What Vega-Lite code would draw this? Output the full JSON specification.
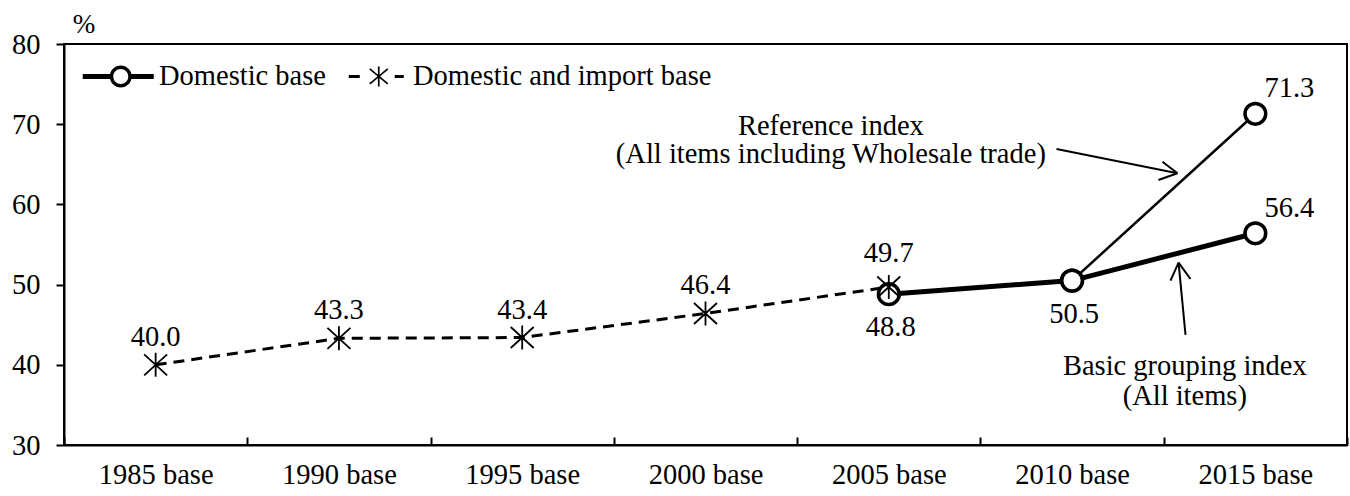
{
  "$schema": "https://vega.github.io/schema/vega-lite/v6.json",
  "width": 1283,
  "height": 401,
  "autosize": {"type": "none"},
  "padding": {"left": 64, "top": 44, "right": 3, "bottom": 51},
  "background": "white",
  "config": {
    "view": {"stroke": "black", "strokeWidth": 2},
    "font": "Liberation Serif",
    "text": {"font": "Liberation Serif", "fontSize": 28.5, "color": "black"},
    "axis": {"labelFont": "Liberation Serif", "titleFont": "Liberation Serif"},
    "legend": {"labelFont": "Liberation Serif", "titleFont": "Liberation Serif"}
  },
  "datasets": {
    "series": [
      {"base": "1985 base", "series": "Domestic and import base", "value": 40.0},
      {"base": "1990 base", "series": "Domestic and import base", "value": 43.3},
      {"base": "1995 base", "series": "Domestic and import base", "value": 43.4},
      {"base": "2000 base", "series": "Domestic and import base", "value": 46.4},
      {"base": "2005 base", "series": "Domestic and import base", "value": 49.7},
      {"base": "2005 base", "series": "Domestic base", "value": 48.8},
      {"base": "2010 base", "series": "Domestic base", "value": 50.5},
      {"base": "2015 base", "series": "Domestic base", "value": 56.4},
      {"base": "2010 base", "series": "Reference index", "value": 50.5},
      {"base": "2015 base", "series": "Reference index", "value": 71.3}
    ],
    "arrows": [
      {"arrow": "ref-shaft", "u": 5.415, "v": 66.91, "u2": 6.075, "v2": 63.88},
      {"arrow": "ref-arm1", "u": 5.993, "v": 65.32, "u2": 6.075, "v2": 63.88},
      {"arrow": "ref-arm2", "u": 5.971, "v": 63.04, "u2": 6.075, "v2": 63.88},
      {"arrow": "basic-shaft", "u": 6.119, "v": 43.72, "u2": 6.081, "v2": 52.73},
      {"arrow": "basic-arm1", "u": 6.037, "v": 50.49, "u2": 6.081, "v2": 52.73},
      {"arrow": "basic-arm2", "u": 6.146, "v": 50.70, "u2": 6.081, "v2": 52.73}
    ],
    "notes": [
      {"text": "Reference index", "u": 4.184, "v": 69.78},
      {"text": "(All items including Wholesale trade)", "u": 4.184, "v": 66.28},
      {"text": "Basic grouping index", "u": 6.115, "v": 39.85},
      {"text": "(All items)", "u": 6.115, "v": 36.05}
    ]
  },
  "layer": [
    {
      "data": {"name": "series"},
      "encoding": {
        "x": {
          "field": "base",
          "type": "nominal",
          "scale": {
            "type": "band",
            "domain": ["1985 base", "1990 base", "1995 base", "2000 base", "2005 base", "2010 base", "2015 base"],
            "paddingInner": 0,
            "paddingOuter": 0
          },
          "axis": {
            "title": null,
            "labelAngle": 0,
            "tickBand": "extent",
            "tickSize": -8,
            "tickWidth": 2,
            "tickColor": "black",
            "domainColor": "black",
            "domainWidth": 2,
            "labelPadding": 23,
            "labelFont": "Liberation Serif",
            "labelFontSize": 28.5,
            "labelColor": "black",
            "grid": false
          }
        },
        "y": {
          "field": "value",
          "type": "quantitative",
          "scale": {"domain": [30, 80], "nice": false, "zero": false},
          "axis": {
            "title": "%",
            "titleAngle": 0,
            "titleX": 19.5,
            "titleY": -20,
            "titleAlign": "center",
            "titleBaseline": "middle",
            "titleFont": "Liberation Serif",
            "titleFontSize": 27,
            "titleFontWeight": "normal",
            "titleColor": "black",
            "values": [30, 40, 50, 60, 70, 80],
            "grid": false,
            "tickSize": 8,
            "tickWidth": 2,
            "tickColor": "black",
            "domainColor": "black",
            "domainWidth": 2,
            "labelPadding": 16,
            "labelFont": "Liberation Serif",
            "labelFontSize": 28.5,
            "labelColor": "black"
          }
        }
      },
      "layer": [
        {
          "transform": [{"filter": "datum.series === 'Domestic and import base'"}],
          "mark": {"type": "line", "stroke": "black", "strokeWidth": 3, "strokeDash": [11, 7]}
        },
        {
          "transform": [{"filter": "datum.series === 'Domestic base'"}],
          "mark": {"type": "line", "stroke": "black", "strokeWidth": 5}
        },
        {
          "transform": [{"filter": "datum.series === 'Reference index'"}],
          "mark": {"type": "line", "stroke": "black", "strokeWidth": 2.5}
        },
        {
          "transform": [{"filter": "datum.series !== 'Domestic and import base'"}],
          "mark": {"type": "point", "shape": "circle", "size": 430, "filled": true, "fill": "white", "stroke": "black", "strokeWidth": 3.5, "opacity": 1}
        },
        {
          "transform": [{"filter": "datum.series === 'Domestic and import base'"}],
          "mark": {"type": "point", "shape": "M0,-1.2L0,1.2M-1.15,-1.05L1.15,1.05M-1.15,1.05L1.15,-1.05", "size": 400, "filled": false, "stroke": "black", "strokeWidth": 1.8, "opacity": 1}
        },
        {
          "transform": [{"filter": "false"}],
          "mark": {"type": "point", "filled": true, "color": "black", "fill": "black", "stroke": "black", "strokeWidth": 0, "opacity": 1},
          "encoding": {
            "shape": {
              "field": "series",
              "type": "nominal",
              "scale": {
                "domain": ["Domestic base", "Domestic and import base"],
                "range": [
                  "M-3.8,-0.25L-1.05,-0.25L-1.05,0.25L-3.8,0.25ZM1.05,-0.25L3.3,-0.25L3.3,0.25L1.05,0.25ZM1.1,0A1.1,1.1,0,1,1,-1.1,0A1.1,1.1,0,1,1,1.1,0ZM0.75,0A0.75,0.75,0,1,0,-0.75,0A0.75,0.75,0,1,0,0.75,0Z",
                  "M-2.6,-0.15L-1.5,-0.15L-1.5,0.15L-2.6,0.15ZM2,-0.15L2.9,-0.15L2.9,0.15L2,0.15ZM0.315,-1L0.485,-1L0.485,1L0.315,1ZM-0.554,-0.685L-0.446,-0.815L1.354,0.685L1.246,0.815ZM-0.446,0.815L-0.554,0.685L1.246,-0.815L1.354,-0.685Z"
                ]
              },
              "legend": {
                "title": null,
                "orient": "none",
                "direction": "horizontal",
                "columns": 2,
                "legendX": 42.5,
                "legendY": 18,
                "padding": 0,
                "symbolSize": 400,
                "symbolFillColor": "black",
                "symbolStrokeColor": "black",
                "symbolStrokeWidth": 0,
                "symbolOpacity": 1,
                "labelOffset": 24,
                "columnPadding": 22,
                "labelLimit": 1000,
                "labelFont": "Liberation Serif",
                "labelFontSize": 28.5,
                "labelColor": "black"
              }
            }
          }
        },
        {
          "transform": [{"filter": "datum.series === 'Domestic and import base' && datum.base !== '2005 base'"}],
          "mark": {"type": "text", "font": "Liberation Serif", "fontSize": 28.5, "dy": -28, "align": "center", "baseline": "middle"},
          "encoding": {"text": {"field": "value", "type": "quantitative", "format": ".1f"}}
        },
        {
          "transform": [{"filter": "datum.series === 'Domestic and import base' && datum.base === '2005 base'"}],
          "mark": {"type": "text", "font": "Liberation Serif", "fontSize": 28.5, "dy": -34.5, "align": "center", "baseline": "middle"},
          "encoding": {"text": {"field": "value", "type": "quantitative", "format": ".1f"}}
        },
        {
          "transform": [{"filter": "datum.series === 'Domestic base' && datum.base !== '2015 base'"}],
          "mark": {"type": "text", "font": "Liberation Serif", "fontSize": 28.5, "dy": 33, "dx": 2, "align": "center", "baseline": "middle"},
          "encoding": {"text": {"field": "value", "type": "quantitative", "format": ".1f"}}
        },
        {
          "transform": [{"filter": "datum.series !== 'Domestic and import base' && datum.base === '2015 base'"}],
          "mark": {"type": "text", "font": "Liberation Serif", "fontSize": 28.5, "dy": -25.5, "dx": 34, "align": "center", "baseline": "middle"},
          "encoding": {"text": {"field": "value", "type": "quantitative", "format": ".1f"}}
        }
      ]
    },
    {
      "layer": [
        {
          "data": {"name": "arrows"},
          "mark": {"type": "rule", "stroke": "black", "strokeWidth": 2},
          "encoding": {
            "x": {"field": "u", "type": "quantitative", "scale": {"domain": [0, 7], "nice": false, "zero": false}, "axis": null},
            "x2": {"field": "u2"},
            "y": {"field": "v", "type": "quantitative", "scale": {"domain": [30, 80], "nice": false, "zero": false}, "axis": null},
            "y2": {"field": "v2"}
          }
        },
        {
          "data": {"name": "notes"},
          "mark": {"type": "text", "font": "Liberation Serif", "fontSize": 28.5, "align": "center", "baseline": "middle"},
          "encoding": {
            "x": {"field": "u", "type": "quantitative", "scale": {"domain": [0, 7], "nice": false, "zero": false}, "axis": null},
            "y": {"field": "v", "type": "quantitative", "scale": {"domain": [30, 80], "nice": false, "zero": false}, "axis": null},
            "text": {"field": "text", "type": "nominal"}
          }
        }
      ]
    }
  ],
  "resolve": {"scale": {"x": "independent", "y": "independent"}}
}
